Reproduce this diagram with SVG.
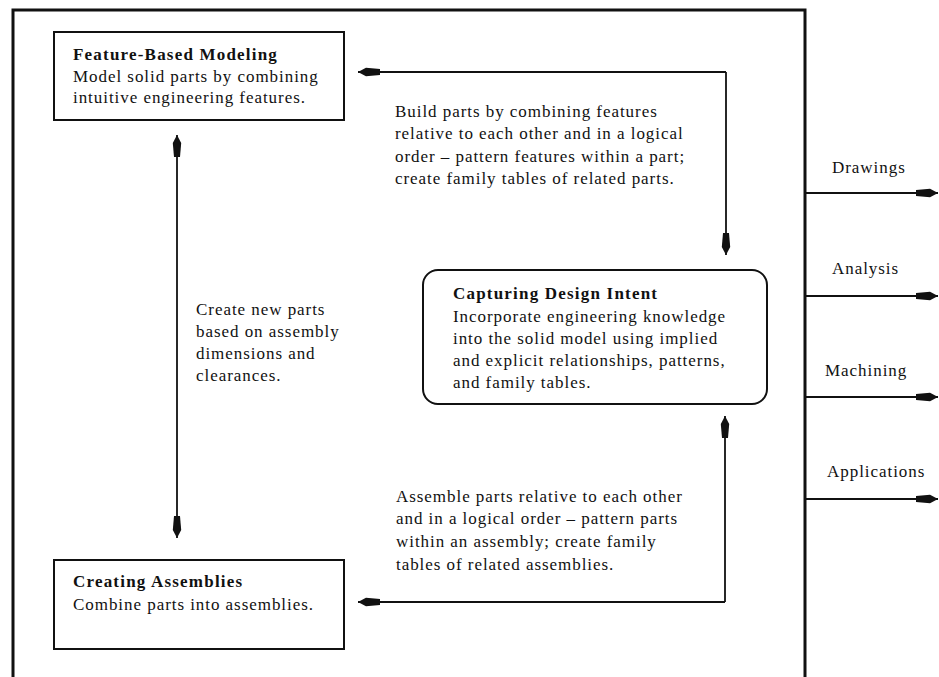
<svg xmlns="http://www.w3.org/2000/svg" width="939" height="677" viewBox="0 0 939 677">
<style>
text{font-family:"Liberation Serif","Times New Roman",serif;font-size:17px;fill:#111;letter-spacing:0.95px}
.t{font-weight:bold;letter-spacing:1.2px}
.box{fill:#fff;stroke:#111;stroke-width:2}
.c{fill:none;stroke:#111;stroke-width:1.8}
.frame{fill:none;stroke:#111;stroke-width:3}
</style>
<defs>
<marker id="ah" viewBox="0 0 22 10" refX="22" refY="5" markerWidth="22" markerHeight="10" markerUnits="userSpaceOnUse" orient="auto">
<path d="M0,2 L14,0.8 L22,5 L14,9.2 L0,8 z" fill="#111"/>
</marker>
</defs>
<rect width="939" height="677" fill="#fff"/>
<rect id="frame" class="frame" x="13" y="10" width="792" height="672"/>
<g id="connectors">
<path class="c" d="M726,72 L358,72" marker-end="url(#ah)"/>
<path class="c" d="M726,72 L726,255" marker-end="url(#ah)"/>
<path class="c" d="M177,300 L177,135" marker-end="url(#ah)"/>
<path class="c" d="M177,300 L177,538" marker-end="url(#ah)"/>
<path class="c" d="M725,602 L358,602" marker-end="url(#ah)"/>
<path class="c" d="M725,602 L725,416" marker-end="url(#ah)"/>
<path class="c" d="M805,193 L938,193" marker-end="url(#ah)"/>
<path class="c" d="M805,296 L938,296" marker-end="url(#ah)"/>
<path class="c" d="M805,397 L938,397" marker-end="url(#ah)"/>
<path class="c" d="M805,499 L938,499" marker-end="url(#ah)"/>
</g>
<g id="feature-based-modeling">
<rect class="box" x="54" y="32" width="290" height="88"/>
<text class="t" x="73" y="60">Feature-Based Modeling</text>
<text x="73" y="82">Model solid parts by combining</text>
<text x="73" y="103">intuitive engineering features.</text>
</g>
<g id="capturing-design-intent">
<rect class="box" x="423" y="270" width="344" height="134" rx="15" ry="15"/>
<text class="t" x="453" y="299">Capturing Design Intent</text>
<text x="453" y="322">Incorporate engineering knowledge</text>
<text x="453" y="344">into the solid model using implied</text>
<text x="453" y="366">and explicit relationships, patterns,</text>
<text x="453" y="388">and family tables.</text>
</g>
<g id="creating-assemblies">
<rect class="box" x="54" y="560" width="290" height="89"/>
<text class="t" x="73" y="587">Creating Assemblies</text>
<text x="73" y="610">Combine parts into assemblies.</text>
</g>
<g id="label-build">
<text x="395" y="117">Build parts by combining features</text>
<text x="395" y="139">relative to each other and in a logical</text>
<text x="395" y="162">order – pattern features within a part;</text>
<text x="395" y="184">create family tables of related parts.</text>
</g>
<g id="label-create">
<text x="196" y="315">Create new parts</text>
<text x="196" y="337">based on assembly</text>
<text x="196" y="359">dimensions and</text>
<text x="196" y="381">clearances.</text>
</g>
<g id="label-assemble">
<text x="396" y="502">Assemble parts relative to each other</text>
<text x="396" y="524">and in a logical order – pattern parts</text>
<text x="396" y="547">within an assembly; create family</text>
<text x="396" y="570">tables of related assemblies.</text>
</g>
<g id="outputs">
<text x="832" y="173">Drawings</text>
<text x="832" y="274">Analysis</text>
<text x="825" y="376">Machining</text>
<text x="827" y="477">Applications</text>
</g>
</svg>
